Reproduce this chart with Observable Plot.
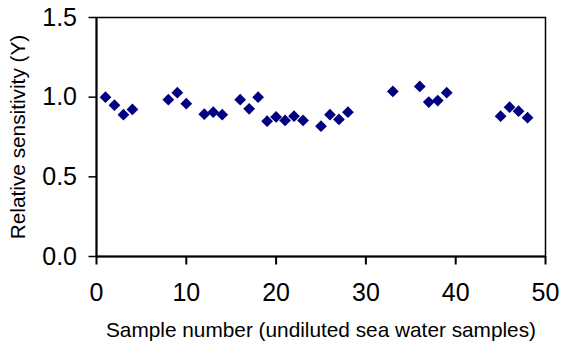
<!DOCTYPE html>
<html>
<head>
<meta charset="utf-8">
<script src="https://cdn.jsdelivr.net/npm/d3@7"></script>
<script src="https://cdn.jsdelivr.net/npm/@observablehq/plot@0.6"></script>
<style>
  html, body { margin: 0; padding: 0; background: #fff; }
</style>
</head>
<body>
<div id="chart"></div>
<script>
const sampleNumbers = [1, 2, 3, 4, 8, 9, 10, 12, 13, 14, 16, 17, 18, 19, 20, 21, 22, 23, 25, 26, 27, 28, 33, 36, 37, 38, 39, 45, 46, 47, 48];
const sensitivities = [1.00, 0.95, 0.89, 0.923, 0.984, 1.028, 0.959, 0.893, 0.906, 0.89, 0.984, 0.927, 1.00, 0.849, 0.876, 0.854, 0.881, 0.854, 0.818, 0.89, 0.86, 0.906, 1.036, 1.067, 0.969, 0.979, 1.028, 0.881, 0.937, 0.912, 0.871];
const xTicks = [0, 10, 20, 30, 40, 50];
const yTicks = [0, 0.5, 1.0, 1.5];
const xTitle = "Sample number (undiluted sea water samples)";
const yTitle = "Relative sensitivity (Y)";

const data = sampleNumbers.map((x, i) => ({x, y: sensitivities[i]}));

const chart = Plot.plot({
  width: 562,
  height: 347,
  marginLeft: 96,
  marginRight: 17,
  marginTop: 17,
  marginBottom: 91,
  style: {fontFamily: "'Liberation Sans', Arial, sans-serif", fontSize: "25px", color: "#000", background: "#fff"},
  x: {domain: [0, 50]},
  y: {domain: [0, 1.5]},
  marks: [
    Plot.frame({stroke: "#000", strokeWidth: 1.5}),
    Plot.axisY(yTicks, {tickSize: 7.5, tickPadding: 12, strokeWidth: 1.5, tickFormat: d3.format(".1f"), label: null, fontSize: 25}),
    Plot.axisX(xTicks, {tickSize: 8.5, tickPadding: 18, strokeWidth: 2, tickFormat: d3.format("d"), label: null, fontSize: 25}),
    Plot.ruleX([0], {stroke: "#000", strokeWidth: 2}),
    Plot.ruleY([0], {stroke: "#000", strokeWidth: 2}),
    Plot.dot(data, {x: "x", y: "y", symbol: "diamond2", r: 5.3, fill: "#000080", stroke: "none"}),
    Plot.text([xTitle], {frameAnchor: "bottom", dy: 80, fontSize: 20.8, fill: "#000"}),
    Plot.text([yTitle], {frameAnchor: "left", textAnchor: "middle", rotate: -90, dx: -78, fontSize: 20.8, fill: "#000"})
  ]
});
document.getElementById("chart").appendChild(chart);
</script>
</body>
</html>
